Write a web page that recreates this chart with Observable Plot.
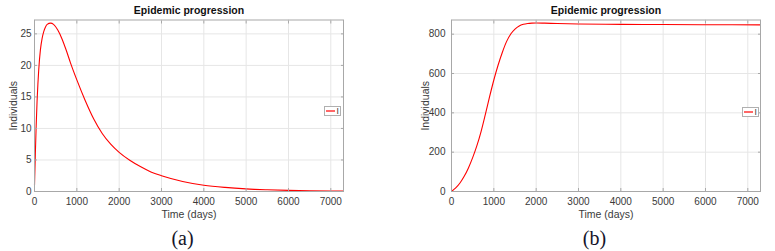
<!DOCTYPE html>
<html>
<head>
<meta charset="utf-8">
<script src="https://cdn.jsdelivr.net/npm/d3@7"></script>
<script src="https://cdn.jsdelivr.net/npm/@observablehq/plot@0.6"></script>
<style>
  html, body { margin: 0; padding: 0; background: #fff; }
  #fig { position: relative; width: 775px; height: 251px; overflow: hidden; }
  .panel { position: absolute; top: 0; }
  .legend { position: absolute; width: 17px; height: 10px; }
</style>
</head>
<body>
<div id="fig"></div>
<script>
// ---- data ----
const title = "Epidemic progression";
const xLabel = "Time (days)";
const yLabel = "Individuals";
const seriesName = "I";
const panelLabels = ["(a)", "(b)"];
const xTicks = [0, 1000, 2000, 3000, 4000, 5000, 6000, 7000];
const yTicksA = [0, 5, 10, 15, 20, 25];
const yTicksB = [0, 200, 400, 600, 800];

// panel (a): infected individuals
const tA = [0, 20, 40, 60, 80, 100, 140, 180, 220, 260, 300, 380, 450, 550, 650, 750, 850, 1000, 1200, 1400, 1600, 1800, 2000, 2250, 2500, 2750, 3000, 3500, 4000, 4500, 5000, 5500, 6000, 6500, 7000, 7300];
const iA = [1.0, 6.0, 10.5, 14.2, 17.0, 19.3, 22.5, 24.3, 25.4, 26.1, 26.5, 26.7, 26.5, 25.6, 24.2, 22.4, 20.4, 17.7, 14.4, 11.5, 9.2, 7.5, 6.2, 4.95, 3.95, 3.1, 2.5, 1.6, 1.0, 0.65, 0.42, 0.28, 0.18, 0.12, 0.075, 0.06];

// panel (b): infected individuals
const tB = [0, 100, 200, 300, 400, 500, 600, 700, 800, 900, 1000, 1100, 1200, 1300, 1400, 1500, 1600, 1700, 1800, 1900, 2000, 2200, 2500, 3000, 4000, 5000, 6000, 7300];
const iB = [0, 18, 43, 77, 120, 172, 233, 306, 392, 482, 567, 642, 707, 762, 801, 826, 842, 850, 854, 856, 857, 856, 854, 852, 850, 849, 848, 847];

const font = '"Liberation Sans", Arial, Helvetica, sans-serif';
const fmt = d3.format("d");

function panel({t, v, yDomain, yTicks, width, marginLeft, marginRight, yLabelDx, yTickPad, label, labelDx}) {
  const data = t.map((d, i) => ({t: d, v: v[i]}));
  return Plot.plot({
    width, height: 251,
    marginLeft, marginRight, marginTop: 19.5, marginBottom: 60,
    style: {fontFamily: font, fontSize: "10px", color: "#3a3a3a", background: "white"},
    x: {domain: [0, 7300], ticks: xTicks},
    y: {domain: yDomain, ticks: yTicks},
    marks: [
      Plot.gridX(xTicks, {stroke: "#e6e6e6", strokeOpacity: 1}),
      Plot.gridY(yTicks, {stroke: "#e6e6e6", strokeOpacity: 1}),
      Plot.line(data, {x: "t", y: "v", stroke: "#ff0000", strokeWidth: 1.1, curve: "monotone-x"}),
      Plot.frame({stroke: "#a8a8a8"}),
      Plot.axisX(xTicks, {anchor: "bottom", tickSize: 0, tickPadding: 6, tickFormat: fmt, label: null, fill: "#3a3a3a"}),
      Plot.axisY(yTicks, {anchor: "left", tickSize: 0, tickPadding: yTickPad, tickFormat: fmt, label: null, fill: "#3a3a3a"}),
      Plot.axisX(xTicks, {anchor: "bottom", tickSize: -3, tickFormat: () => "", label: null, stroke: "#a8a8a8"}),
      Plot.axisX(xTicks, {anchor: "top", tickSize: -3, tickFormat: () => "", label: null, stroke: "#a8a8a8"}),
      Plot.axisY(yTicks, {anchor: "left", tickSize: -3, tickFormat: () => "", label: null, stroke: "#a8a8a8"}),
      Plot.axisY(yTicks, {anchor: "right", tickSize: -3, tickFormat: () => "", label: null, stroke: "#a8a8a8"}),
      Plot.text([title], {frameAnchor: "top", dy: -6, lineAnchor: "bottom", fontWeight: "bold", fontSize: 10.5, fill: "#111"}),
      Plot.text([xLabel], {frameAnchor: "bottom", dy: 26, lineAnchor: "bottom", fontSize: 10.5, fill: "#3a3a3a"}),
      Plot.text([yLabel], {frameAnchor: "left", dx: yLabelDx, rotate: -90, textAnchor: "middle", lineAnchor: "middle", fontSize: 10.5, fill: "#3a3a3a"}),
      Plot.text([label], {frameAnchor: "bottom", dy: 53, dx: labelDx, lineAnchor: "bottom", fontSize: 20, fill: "#141428", fontFamily: '"Liberation Serif", "Times New Roman", serif'})
    ]
  });
}

const fig = document.getElementById("fig");

const a = panel({t: tA, v: iA, yDomain: [0, 27.2], yTicks: yTicksA, width: 390, marginLeft: 34, marginRight: 47, yLabelDx: -21.3, yTickPad: 3, label: panelLabels[0], labelDx: -6.5});
const da = document.createElement("div"); da.className = "panel"; da.style.left = "0px"; da.appendChild(a); fig.appendChild(da);

const b = panel({t: tB, v: iB, yDomain: [0, 872], yTicks: yTicksB, width: 385, marginLeft: 61, marginRight: 15, yLabelDx: -26, yTickPad: 6, label: panelLabels[1], labelDx: -11.5});
const db = document.createElement("div"); db.className = "panel"; db.style.left = "390px"; db.appendChild(b); fig.appendChild(db);

function legend(left, top) {
  const ns = "http://www.w3.org/2000/svg";
  const l = document.createElement("div");
  l.className = "legend";
  l.style.left = left + "px"; l.style.top = top + "px";
  const s = document.createElementNS(ns, "svg");
  s.setAttribute("width", 17); s.setAttribute("height", 10);
  s.innerHTML = '<rect x="0.5" y="0.5" width="16" height="9" fill="#fff" stroke="#b0b0b0"/>' +
    '<line x1="2" x2="11" y1="5" y2="5" stroke="#ff0000" stroke-width="1.2"/>' +
    '<text x="12.5" y="8.3" font-size="8.5" fill="#333" font-family="Liberation Sans, Arial, sans-serif"></text>';
  s.querySelector("text").textContent = seriesName;
  l.appendChild(s);
  fig.appendChild(l);
}
legend(324, 102);
legend(742, 103);
</script>
</body>
</html>
